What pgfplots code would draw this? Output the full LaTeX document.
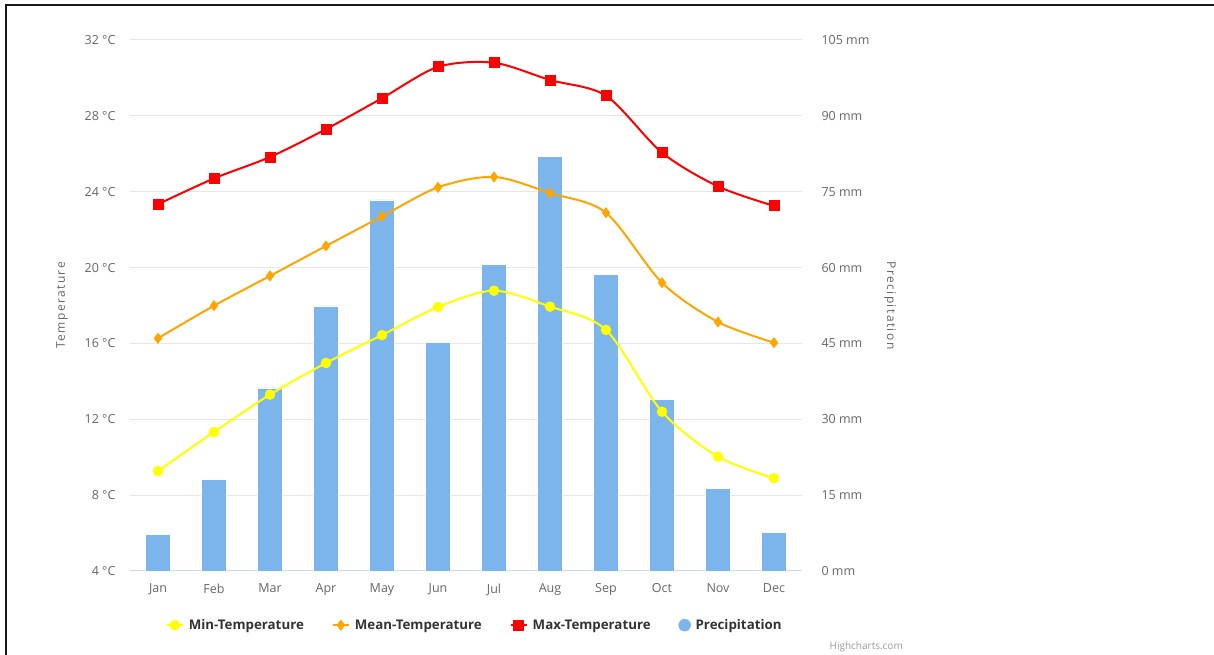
\documentclass[border=0pt]{standalone}
\usepackage{pgfplots}
\pgfplotsset{compat=1.18}
\usepackage{fontspec}
\setmainfont{Open Sans}
\definecolor{barblue}{HTML}{7CB5EC}
\definecolor{gridgray}{HTML}{E6E6E6}
\definecolor{axisline}{HTML}{CCD6EB}
\definecolor{ticktext}{HTML}{666666}
\definecolor{legtext}{HTML}{333333}
\definecolor{hcgray}{HTML}{999999}
\definecolor{maxred}{HTML}{FF0000}
\definecolor{meanorange}{HTML}{FFA500}
\definecolor{minyellow}{HTML}{FFFF00}
\newfontfamily\spaced[LetterSpace=12]{Open Sans}
\begin{document}
\begin{tikzpicture}[x=1pt,y=1pt]
\path[use as bounding box] (0,0) rectangle (1214,655);
\draw[line width=2pt,black!90] (5.5,0) -- (5.5,649.5) -- (1214,649.5);
\node[anchor=east,text=hcgray,font=\fontsize{10pt}{12pt}\selectfont,inner sep=0pt] at (903,8) {Highcharts.com};

% precipitation axis (right)
\begin{axis}[
  at={(130pt,84pt)}, anchor=south west,
  scale only axis, width=672pt, height=531pt,
  xmin=-0.5, xmax=11.5,
  ymin=0, ymax=105,
  ytick={0,15,...,105},
  xtick={0,...,11},
  xticklabels={Jan,Feb,Mar,Apr,May,Jun,Jul,Aug,Sep,Oct,Nov,Dec},
  axis y line*=right,
  axis x line*=bottom,
  y axis line style={draw=none},
  x axis line style={draw=axisline, line width=1pt, -},
  major tick length=0pt,
  ymajorgrids,
  grid style={draw=gridgray, line width=1pt},
  /pgf/number format/assume math mode=true,
  yticklabel={\pgfmathprintnumber{\tick} mm},
  yticklabel style={font=\fontsize{12.5pt}{14pt}\selectfont, text=ticktext, anchor=west, xshift=16pt},
  xticklabel style={font=\fontsize{12.5pt}{14pt}\selectfont, text=ticktext, yshift=-9pt},
  ylabel={Precipitation},
  ylabel style={at={(axis description cs:1.131,0.5)}, anchor=center, rotate=180, font=\spaced\fontsize{12pt}{14pt}\selectfont, text=ticktext},
]
\addplot[ybar, bar width=25pt, fill=barblue, draw=white, line width=0.5pt] coordinates {
(0,7.3) (1,18.1) (2,36.2) (3,52.4) (4,73.4) (5,45.2) (6,60.6) (7,82.0) (8,58.6) (9,33.9) (10,16.3) (11,7.6)
};
\end{axis}

% temperature axis (left)
\begin{axis}[
  at={(130pt,84pt)}, anchor=south west,
  scale only axis, width=672pt, height=531pt,
  xmin=-0.5, xmax=11.5,
  ymin=4, ymax=32,
  ytick={4,8,...,32},
  axis y line*=left,
  axis x line=none,
  y axis line style={draw=none},
  major tick length=0pt,
  /pgf/number format/assume math mode=true,
  yticklabel={\pgfmathprintnumber{\tick} °C},
  yticklabel style={font=\fontsize{12.5pt}{14pt}\selectfont, text=ticktext, anchor=east, xshift=-11pt},
  ylabel={Temperature},
  ylabel style={at={(axis description cs:-0.101,0.5)}, anchor=center, font=\spaced\fontsize{12pt}{14pt}\selectfont, text=ticktext},
  legend columns=4,
  legend style={at={(axis description cs:0.513,-0.102)}, anchor=center, draw=none, fill=none,
    font=\bfseries\fontsize{13.3pt}{15pt}\selectfont, text=legtext,
    /tikz/every even column/.append style={column sep=26pt},
    /tikz/every odd column/.append style={column sep=3pt}},
  legend image code/.code={\draw[mark repeat=2,mark phase=2,#1] plot coordinates {(0pt,0pt) (8pt,0pt) (16pt,0pt)};},
]
\addplot[smooth, color=minyellow, line width=2pt, mark=*, mark size=4.2pt] coordinates {
(0,9.27) (1,11.33) (2,13.3) (3,14.97) (4,16.44) (5,17.92) (6,18.78) (7,17.94) (8,16.71) (9,12.4) (10,10.03) (11,8.89)
};
\addlegendentry{Min-Temperature}
\addplot[smooth, color=meanorange, line width=2pt, mark=diamond*, mark size=4pt] coordinates {
(0,16.27) (1,17.99) (2,19.56) (3,21.14) (4,22.7) (5,24.23) (6,24.78) (7,23.93) (8,22.89) (9,19.2) (10,17.13) (11,16.04)
};
\addlegendentry{Mean-Temperature}
\addplot[smooth, color=maxred, line width=2pt, mark=square*, mark size=4.5pt] coordinates {
(0,23.34) (1,24.7) (2,25.83) (3,27.3) (4,28.93) (5,30.58) (6,30.8) (7,29.89) (8,29.06) (9,26.06) (10,24.28) (11,23.25)
};
\addlegendentry{Max-Temperature}
\addlegendimage{only marks, mark=*, color=barblue, mark size=6pt}
\addlegendentry{Precipitation}
\end{axis}
\end{tikzpicture}
\end{document}
